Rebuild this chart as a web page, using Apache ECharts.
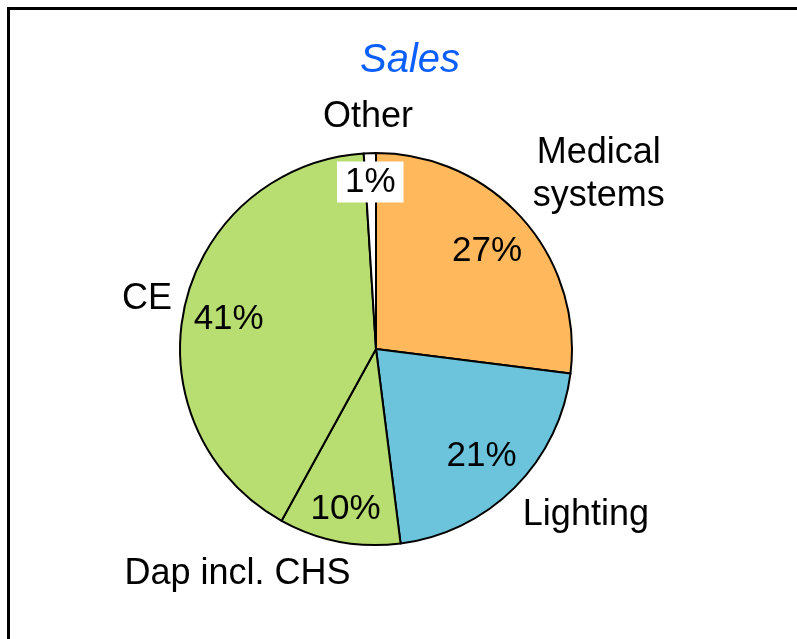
<!DOCTYPE html>
<html>
<head>
<meta charset="utf-8">
<script src="https://cdn.jsdelivr.net/npm/echarts@6/dist/echarts.min.js"></script>
<style>
html,body{margin:0;padding:0;background:#fff;}
#chart{width:797px;height:639px;}
</style>
</head>
<body>
<div id="chart"></div>
<script>
// Data
const categories = ['Medical\nsystems', 'Lighting', 'Dap incl. CHS', 'CE', 'Other'];
const values = [27, 21, 10, 41, 1];
const titleText = 'Sales';

// Styles (not data)
const colors = ['#FFB95C', '#6BC4DB', '#B8DD70', '#B8DD70', '#FFFFFF'];
const nameOffsets = [[33, -7], [31, -13], [-91, -23], [18, 5], [0, 21]];
const pctOffsets = [[-3, 3], [-2, 0], [-2, 11], [1, 4], [-1, -15]];
const FONT = '"Liberation Sans", Arial, sans-serif';
const center = [376, 349];
const R = 196;

const chart = echarts.init(document.getElementById('chart'), null, {renderer: 'canvas'});

const baseData = categories.map((c, i) => ({
  name: c, value: values[i],
  itemStyle: {color: colors[i]}
}));

const pctData = categories.map((c, i) => ({
  name: c, value: values[i],
  label: Object.assign({offset: pctOffsets[i]},
    i === 4 ? {backgroundColor: '#fff', padding: [4, 8, 2, 8]} : {})
}));

const nameData = categories.map((c, i) => ({
  name: c, value: values[i],
  label: {offset: nameOffsets[i]}
}));

const option = {
  animation: false,
  backgroundColor: '#fff',
  title: {
    text: titleText,
    left: 355, top: 36,
    textStyle: {fontFamily: FONT, fontSize: 40, fontStyle: 'italic', fontWeight: 'normal', color: '#0B5FFF'}
  },
  graphic: [{
    type: 'rect',
    shape: {x: 8.5, y: 8.5, width: 900, height: 800},
    style: {fill: 'none', stroke: '#000', lineWidth: 3},
    silent: true
  }],
  series: [
    {
      type: 'pie', center: center, radius: [0, R],
      startAngle: 90, clockwise: true,
      data: baseData,
      label: {show: false}, labelLine: {show: false},
      itemStyle: {borderColor: '#000', borderWidth: 2},
      emphasis: {disabled: true}, silent: true
    },
    {
      type: 'pie', center: center, radius: [102, R],
      startAngle: 90, clockwise: true,
      data: pctData,
      itemStyle: {color: 'rgba(0,0,0,0)', borderWidth: 0},
      label: {
        show: true, position: 'inside',
        formatter: p => p.value + '%',
        fontFamily: FONT, fontSize: 35, color: '#000'
      },
      labelLine: {show: false},
      emphasis: {disabled: true}, silent: true, z: 3
    },
    {
      type: 'pie', center: center, radius: [200, 300],
      startAngle: 90, clockwise: true,
      data: nameData,
      itemStyle: {color: 'rgba(0,0,0,0)', borderWidth: 0},
      label: {
        show: true, position: 'inside',
        formatter: p => p.name,
        fontFamily: FONT, fontSize: 36, color: '#000', lineHeight: 43
      },
      labelLine: {show: false},
      emphasis: {disabled: true}, silent: true, z: 3
    }
  ]
};
chart.setOption(option);
</script>
</body>
</html>
